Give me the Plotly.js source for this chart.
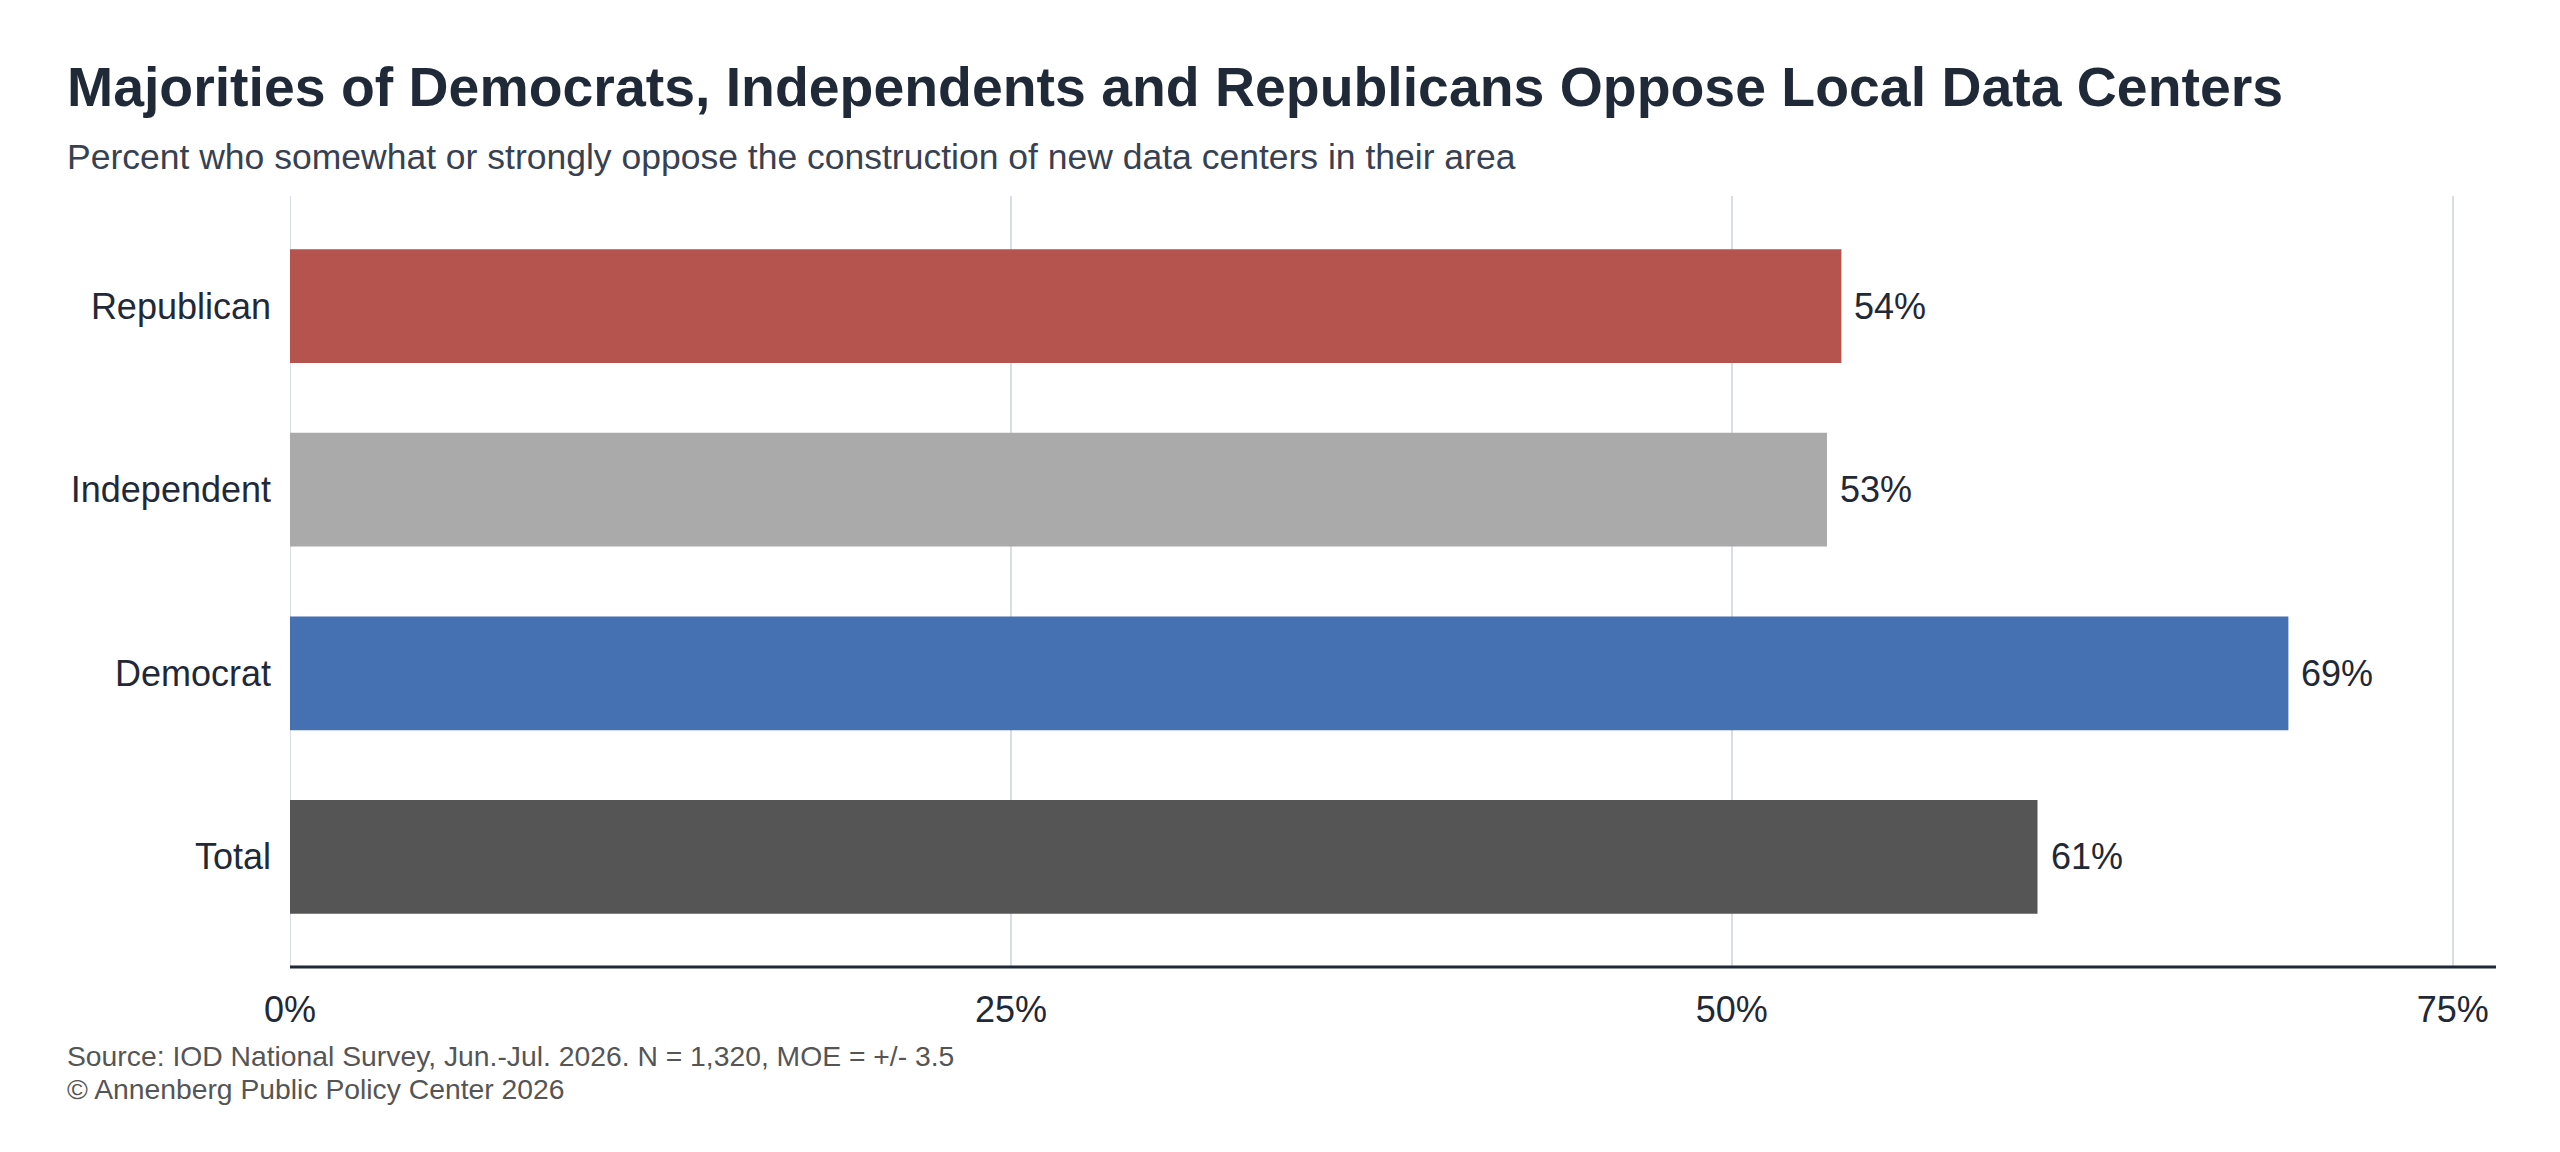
<!DOCTYPE html>
<html>
<head>
<meta charset="utf-8">
<script src="https://cdn.plot.ly/plotly-3.0.1.min.js"></script>
<style>
  html, body { margin: 0; padding: 0; background: #ffffff; }
  #chart { width: 2560px; height: 1152px; }
</style>
</head>
<body>
<div id="chart"></div>
<script>
// ---- Data ----
const categories = ["Total", "Democrat", "Independent", "Republican"];
const values = [60.6, 69.3, 53.3, 53.8];
const valueLabels = ["61%", "69%", "53%", "54%"];
const barColors = ["#555555", "#4570B1", "#AAAAAA", "#B5534E"];
const xTickValues = [0, 25, 50, 75];
const xTickLabels = ["0%", "25%", "50%", "75%"];
const titleText = "Majorities of Democrats, Independents and Republicans Oppose Local Data Centers";
const subtitleText = "Percent who somewhat or strongly oppose the construction of new data centers in their area";
const sourceLines = [
  "Source: IOD National Survey, Jun.-Jul. 2026. N = 1,320, MOE = +/- 3.5",
  "\u00A9 Annenberg Public Policy Center 2026"
];

const FONT = "Liberation Sans, Arial, Helvetica, sans-serif";
const DARK = "#1f2937";

const trace = {
  type: "bar",
  orientation: "h",
  y: categories,
  x: values,
  width: 0.62,
  marker: { color: barColors, line: { width: 0 } },
  hoverinfo: "skip"
};

const annotations = [];
// value labels
categories.forEach((c, i) => {
  annotations.push({
    x: values[i], y: c, xref: "x", yref: "y",
    text: valueLabels[i], showarrow: false,
    xanchor: "left", yanchor: "middle", xshift: 11,
    font: { family: FONT, size: 36, color: DARK }
  });
});
// title, subtitle
annotations.push({
  xref: "paper", yref: "paper", x: -0.102, y: 1.142,
  xanchor: "left", yanchor: "middle", showarrow: false,
  text: "<b>" + titleText + "</b>",
  font: { family: FONT, size: 55.4, color: DARK }
});
annotations.push({
  xref: "paper", yref: "paper", x: -0.102, y: 1.0506,
  xanchor: "left", yanchor: "middle", showarrow: false,
  text: subtitleText,
  font: { family: FONT, size: 35.5, color: "#374151" }
});
sourceLines.forEach((t, i) => {
  annotations.push({
    xref: "paper", yref: "paper", x: -0.102, y: [-0.115, -0.158][i],
    xanchor: "left", yanchor: "middle", showarrow: false,
    text: t,
    font: { family: FONT, size: 28.3, color: "#555555" }
  });
});

const layout = {
  width: 2560, height: 1152,
  paper_bgcolor: "#ffffff", plot_bgcolor: "#ffffff",
  margin: { l: 290, r: 64, t: 196, b: 185 },
  showlegend: false,
  xaxis: {
    range: [0, 76.5],
    tickvals: xTickValues, ticktext: xTickLabels,
    showgrid: true, gridcolor: "#d9dde5", gridwidth: 2,
    zeroline: false,
    showline: false,
    ticks: "", ticklabelstandoff: 18,
    tickfont: { family: FONT, size: 36, color: DARK },
    fixedrange: true
  },
  yaxis: {
    type: "category",
    categoryorder: "array", categoryarray: categories,
    range: [-0.6, 3.6],
    showgrid: false, zeroline: false, showline: false,
    ticks: "", ticklabelstandoff: 18,
    tickfont: { family: FONT, size: 36, color: DARK },
    fixedrange: true
  },
  shapes: [
    { type: "line", xref: "x", yref: "paper", x0: 0, x1: 0, y0: 0, y1: 1,
      line: { color: "#d9dde5", width: 2 }, layer: "below" },
    { type: "line", xref: "paper", yref: "paper", x0: 0, x1: 1, y0: 0, y1: 0,
      line: { color: DARK, width: 3 } }
  ],
  annotations: annotations
};

Plotly.newPlot("chart", [trace], layout, { displayModeBar: false, staticPlot: true });
</script>
</body>
</html>
